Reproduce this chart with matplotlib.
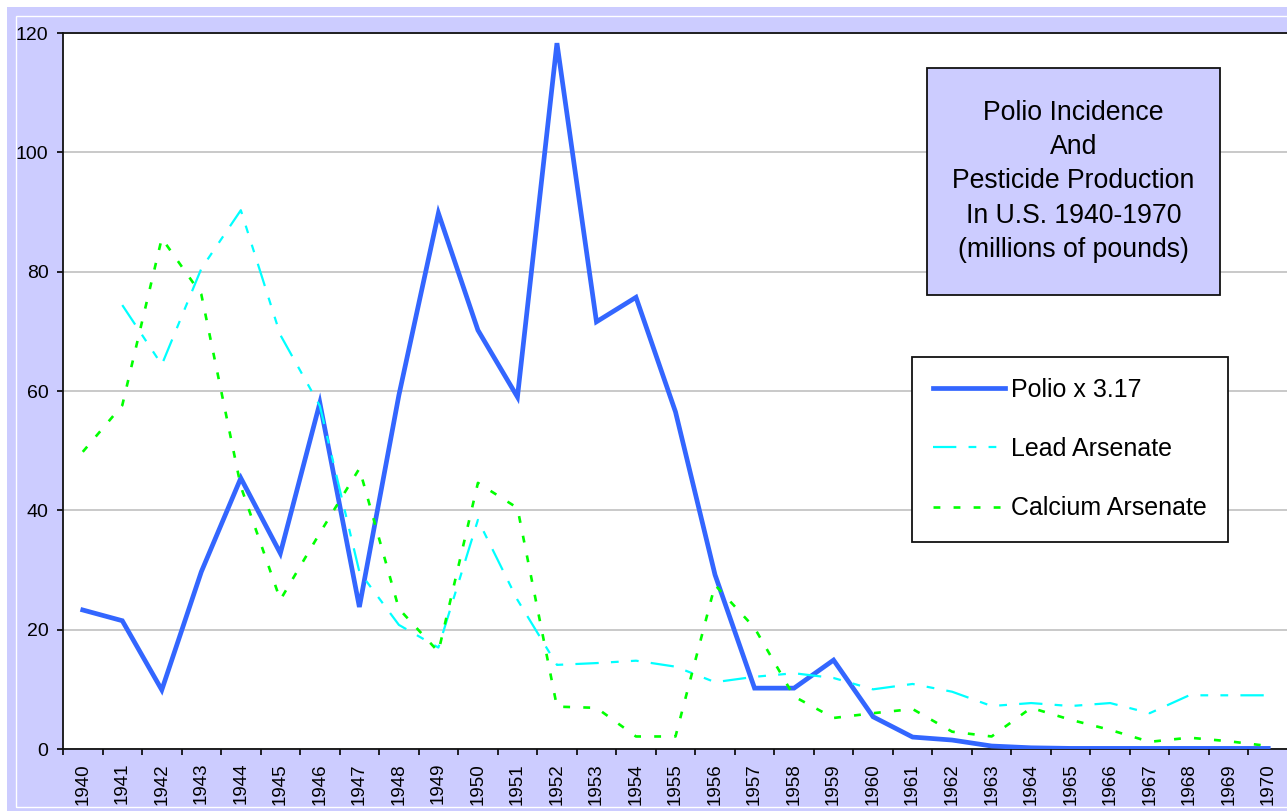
import matplotlib
matplotlib.use("Agg")
import matplotlib.pyplot as plt
from matplotlib.patches import Rectangle

plt.rcParams['font.family'] = ['Liberation Sans', 'DejaVu Sans']

# данные
years = list(range(1940, 1971))
polio = [23.3, 21.5, 9.9, 29.7, 45.4, 32.8, 58.0, 23.8, 59.3, 89.8,
         70.2, 59.0, 118.3, 71.6, 75.7, 56.5, 29.2, 10.2, 10.2, 14.9,
         5.4, 2.0, 1.5, 0.5, 0.2, 0.1, 0.1, 0.1, 0.1, 0.1, 0.1]
lead = [None, 74.4, 64.4, 80.5, 90.3, 69.4, 57.5, 29.7, 20.8, 17.0,
        38.4, 25.0, 14.1, 14.4, 14.8, 13.8, 11.2, 12.1, 12.7, 11.9,
        10.0, 10.9, 9.6, 7.2, 7.7, 7.2, 7.7, 6.0, 9.0, 9.0, 9.0]
calcium = [49.8, 57.6, 85.6, 76.2, 44.0, 25.0, 36.2, 47.0, 23.5, 16.3,
           44.6, 40.4, 7.1, 6.9, 2.1, 2.1, 27.5, 20.3, 8.8, 5.2,
           6.0, 6.7, 2.9, 2.1, 6.9, 4.9, 3.2, 1.2, 1.9, 1.3, 0.5]

W, H = 1287, 811
fig = plt.figure(figsize=(W / 100, H / 100), dpi=100, facecolor='white')


def px(x, y):
    # пиксели картинки -> доли фигуры
    return x / W, 1 - y / H


# фон с рамкой
fig.patches.append(Rectangle(px(7, 811), (W - 7) / W, (811 - 7) / H,
                             transform=fig.transFigure, facecolor='#CCCCFF',
                             edgecolor='none', zorder=-2))
fig.patches.append(Rectangle(px(16, 807), (W + 20 - 16) / W, (807 - 16) / H,
                             transform=fig.transFigure, facecolor='none',
                             edgecolor='white', linewidth=1, zorder=-1))

ax = fig.add_axes([63 / W, (H - 749) / H, (1288 - 63) / W, 716 / H])
ax.set_facecolor('white')

x = list(range(len(years)))
lead_x = [i for i, v in zip(x, lead) if v is not None]
lead_y = [v for v in lead if v is not None]

ax.plot(x, polio, color='#3366FF', linewidth=3.4, solid_joinstyle='miter',
        label='Polio x 3.17', zorder=3)
ax.plot(lead_x, lead_y, color='#00FFFF', linewidth=1.6,
        linestyle=(0, (10.5, 5.5, 3.5, 5.5, 3.5, 5.5)),
        label='Lead Arsenate', zorder=4)
ax.plot(x, calcium, color='#00FF00', linewidth=1.9,
        linestyle=(0, (2.6, 5.0)), label='Calcium Arsenate', zorder=5)

ax.set_xlim(-0.5, len(years) - 0.5)
ax.set_ylim(0, 120)
ax.set_yticks(range(0, 121, 20))
ax.yaxis.grid(True, color='#C0C0C0', linewidth=1.2)
ax.set_axisbelow(True)

ax.set_xticks(x)
ax.set_xticklabels([str(y) for y in years], rotation=90, fontsize=13.5)
ax.set_xticks([i - 0.5 for i in range(len(years) + 1)], minor=True)
ax.tick_params(axis='x', which='major', length=0, pad=10)
ax.tick_params(axis='x', which='minor', length=4, width=1.2, direction='out')
ax.tick_params(axis='y', length=4, width=1.2, labelsize=14, pad=6.5)

for s in ['left', 'bottom', 'top']:
    ax.spines[s].set_color('#111111')
    ax.spines[s].set_linewidth(1.3)
ax.spines['right'].set_visible(False)

# заголовок в рамке
fig.patches.append(Rectangle(px(927, 295), (1220 - 927) / W, (295 - 68) / H,
                             transform=fig.transFigure, facecolor='#CCCCFF',
                             edgecolor='#111111', linewidth=1.3, zorder=6))
fig.text(1073.5 / W, 1 - 181.5 / H,
         'Polio Incidence\nAnd\nPesticide Production\nIn U.S. 1940-1970\n(millions of pounds)',
         ha='center', va='center', fontsize=19.2, linespacing=1.42, zorder=7)

# легенда
leg = ax.legend(loc='upper left', bbox_to_anchor=(912 / W, 1 - 357 / H),
                bbox_transform=fig.transFigure, fontsize=18, frameon=True,
                fancybox=False, edgecolor='#111111', framealpha=1,
                handlelength=2.85, handletextpad=0.25, labelspacing=1.4,
                borderpad=0.85, borderaxespad=0)
leg.get_frame().set_linewidth(1.3)
leg.set_zorder(8)

fig.savefig('out.png', dpi=100, facecolor=fig.get_facecolor())
